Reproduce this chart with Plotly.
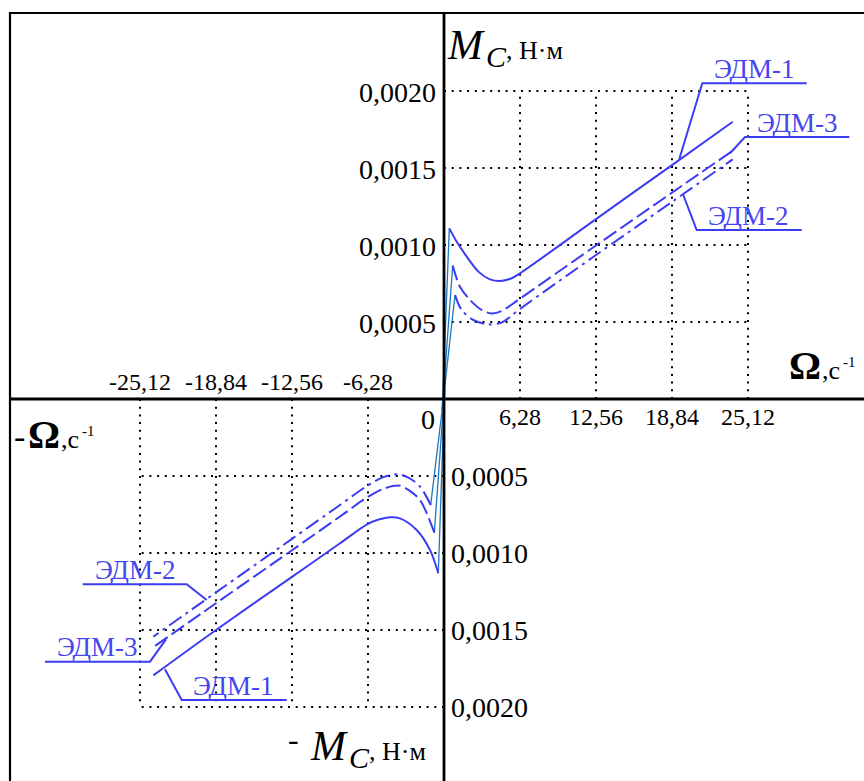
import plotly.graph_objects as go

# ---------------- data ----------------
X_TICKS_POS = [6.28, 12.56, 18.84, 25.12]
X_LABELS_POS = ["6,28", "12,56", "18,84", "25,12"]
X_TICKS_NEG = [-25.12, -18.84, -12.56, -6.28]
X_LABELS_NEG = ["-25,12", "-18,84", "-12,56", "-6,28"]
Y_TICKS_POS = [0.0005, 0.0010, 0.0015, 0.0020]
Y_LABELS_POS = ["0,0005", "0,0010", "0,0015", "0,0020"]
Y_TICKS_NEG = [-0.0005, -0.0010, -0.0015, -0.0020]
Y_LABELS_NEG = ["0,0005", "0,0010", "0,0015", "0,0020"]

# positive quadrant (Omega > 0)
edm1_x = [0.44, 1.05, 1.88, 2.84, 3.80, 4.63, 5.59, 6.28, 12.56, 18.84, 23.86]
edm1_y = [0.001108, 0.001021, 0.000924, 0.000827, 0.000777, 0.000766, 0.000784, 0.000816, 0.001168, 0.001519, 0.00180]
edm3_x = [0.72, 1.32, 2.15, 3.11, 3.94, 4.77, 6.28, 12.56, 18.84, 23.86]
edm3_y = [0.000866, 0.000729, 0.000643, 0.000578, 0.000556, 0.000572, 0.000652, 0.000997, 0.001340, 0.001612]
edm2_x = [0.91, 1.46, 2.42, 3.66, 4.77, 6.28, 12.56, 18.84, 23.86]
edm2_y = [0.000675, 0.000578, 0.000513, 0.000485, 0.000497, 0.000585, 0.000935, 0.001280, 0.001556]

# negative quadrant (Omega < 0)
edm1n_x = [-0.47, -1.16, -2.26, -3.64, -4.46, -5.40, -6.39, -8.59, -12.56, -18.84, -24.02]
edm1n_y = [-0.001132, -0.000980, -0.000851, -0.000775, -0.000768, -0.000783, -0.000815, -0.000937, -0.001155, -0.001500, -0.001795]
edm3n_x = [-0.80, -1.98, -2.80, -3.64, -4.90, -6.39, -8.32, -12.56, -18.84, -24.02]
edm3n_y = [-0.000868, -0.000656, -0.000598, -0.000563, -0.000580, -0.000640, -0.000748, -0.000982, -0.001326, -0.001612]
edm2n_x = [-1.10, -1.98, -2.90, -3.78, -5.00, -6.39, -8.59, -12.56, -18.84, -24.02]
edm2n_y = [-0.000688, -0.000569, -0.000512, -0.000489, -0.000507, -0.000566, -0.000688, -0.000908, -0.001256, -0.001543]

# start of thin transient segments
THIN_START_POS = (-0.15, -0.00007)
THIN_START_NEG = (0.05, 0.00006)

LABELS = ["ЭДМ-1", "ЭДМ-3", "ЭДМ-2"]

# ---------------- geometry helpers (layout only) ----------------
W, H = 864, 781
X0PX, XS = 444.0, 12.102      # px of x=0, px per unit
Y0PX, YS = 399.0, 154000.0    # px of y=0, px per unit
XR = [(0 - X0PX) / XS, (W - X0PX) / XS]
YR = [(Y0PX - H) / YS, Y0PX / YS]


def dx(px):
    return (px - X0PX) / XS


def dy(py):
    return (Y0PX - py) / YS


def pp(px, py):
    return px / W, 1 - py / H


SERIF = "Liberation Serif"
BLUE = "#3c3cf2"
THIN = "#1d76c2"
TXTBLUE = "#4646f0"

fig = go.Figure()

# ---- dotted grids ----
def grid(xticks, yticks, xlim, ylim):
    gx, gy = [], []
    for t in xticks:
        gx += [t, t, None]
        gy += [0, ylim, None]
    for t in yticks:
        gx += [0, xlim, None]
        gy += [t, t, None]
    return gx, gy

for xt, yt in [(X_TICKS_POS, Y_TICKS_POS), (X_TICKS_NEG, Y_TICKS_NEG)]:
    gx, gy = grid(xt, yt, xt[-1] if xt[-1] > 0 else xt[0], yt[-1])
    fig.add_trace(go.Scatter(x=gx, y=gy, mode="lines", hoverinfo="skip",
                             line=dict(color="black", width=2, dash="2px,5.7px"),
                             showlegend=False))

# ---- thin transient segments ----
for start, curves in [(THIN_START_POS, [(edm1_x, edm1_y), (edm3_x, edm3_y), (edm2_x, edm2_y)]),
                      (THIN_START_NEG, [(edm1n_x, edm1n_y), (edm3n_x, edm3n_y), (edm2n_x, edm2n_y)])]:
    for cx, cy in curves:
        fig.add_trace(go.Scatter(x=[start[0], cx[0]], y=[start[1], cy[0]], mode="lines",
                                 line=dict(color=THIN, width=1.3), showlegend=False,
                                 hoverinfo="skip"))

# ---- main curves ----
styles = {"ЭДМ-1": "solid", "ЭДМ-3": "15px,5px", "ЭДМ-2": "15px,5px,3px,5px"}
for name, cx, cy in [("ЭДМ-1", edm1_x, edm1_y), ("ЭДМ-3", edm3_x, edm3_y), ("ЭДМ-2", edm2_x, edm2_y),
                     ("ЭДМ-1", edm1n_x, edm1n_y), ("ЭДМ-3", edm3n_x, edm3n_y), ("ЭДМ-2", edm2n_x, edm2n_y)]:
    fig.add_trace(go.Scatter(x=cx, y=cy, mode="lines", name=name, showlegend=False,
                             line=dict(color=BLUE, width=2, dash=styles[name],
                                       shape="spline", smoothing=0.9)))

# ---- leader lines for labels (pixel paths) ----
LEADERS = {
    ("ЭДМ-1", "+"): [(806.7, 83.3), (702.3, 83.3), (679.3, 159.0)],
    ("ЭДМ-3", "+"): [(849.3, 137.0), (745.0, 137.0), (730.0, 153.3)],
    ("ЭДМ-2", "+"): [(801.7, 230.0), (696.7, 230.0), (683.3, 195.0)],
    ("ЭДМ-2", "-"): [(82.7, 584.3), (186.7, 584.3), (206.7, 600.0)],
    ("ЭДМ-3", "-"): [(45.0, 661.7), (150.0, 661.7), (166.0, 639.3)],
    ("ЭДМ-1", "-"): [(286.7, 700.0), (181.7, 700.0), (165.0, 669.3)],
}
LABEL_POS = {
    ("ЭДМ-1", "+"): (754, 69),
    ("ЭДМ-3", "+"): (797, 123),
    ("ЭДМ-2", "+"): (748, 216),
    ("ЭДМ-2", "-"): (135, 570),
    ("ЭДМ-3", "-"): (97, 647),
    ("ЭДМ-1", "-"): (233, 686),
}
annotations = []
for key, path in LEADERS.items():
    fig.add_trace(go.Scatter(x=[dx(p[0]) for p in path], y=[dy(p[1]) for p in path],
                             mode="lines", line=dict(color=BLUE, width=2),
                             showlegend=False, hoverinfo="skip"))
    lx, ly = LABEL_POS[key]
    annotations.append(dict(x=dx(lx), y=dy(ly), xref="x", yref="y", text=key[0],
                            showarrow=False, xanchor="center", yanchor="middle",
                            font=dict(family=SERIF, size=27, color=TXTBLUE)))

# ---- tick labels ----
XTICK_FONT = dict(family=SERIF, size=24, color="black")
YTICK_FONT = dict(family=SERIF, size=28, color="black")
for v, t in zip(Y_TICKS_POS, Y_LABELS_POS):
    annotations.append(dict(x=dx(438), y=v, xref="x", yref="y", text=t, showarrow=False,
                            xanchor="right", yanchor="middle", yshift=-1, font=YTICK_FONT))
for v, t in zip(Y_TICKS_NEG, Y_LABELS_NEG):
    annotations.append(dict(x=dx(449), y=v, xref="x", yref="y", text=t, showarrow=False,
                            xanchor="left", yanchor="middle", font=YTICK_FONT))
for v, t in zip(X_TICKS_POS, X_LABELS_POS):
    annotations.append(dict(x=v, y=0, xref="x", yref="y", text=t, showarrow=False,
                            xanchor="center", yanchor="middle", yshift=-18, font=XTICK_FONT))
for v, t in zip(X_TICKS_NEG, X_LABELS_NEG):
    annotations.append(dict(x=v, y=0, xref="x", yref="y", text=t, showarrow=False,
                            xanchor="center", yanchor="middle", yshift=17, font=XTICK_FONT))
annotations.append(dict(x=dx(428), y=0, xref="x", yref="y", text="0", showarrow=False,
                        xanchor="center", yanchor="middle", yshift=-20, font=YTICK_FONT))


# ---- axis titles (built from pieces) ----
def txt(px, baseline, text, size, bold=False, italic=False, family=SERIF):
    cy = baseline - 0.338 * size
    x, y = pp(px, cy)
    s = text
    if italic:
        s = "<i>" + s + "</i>"
    if bold:
        s = "<b>" + s + "</b>"
    annotations.append(dict(x=x, y=y, xref="paper", yref="paper", text=s, showarrow=False,
                            xanchor="left", yanchor="middle",
                            borderpad=0, font=dict(family=family, size=size, color="black")))

# upper: M_C, Н·м
txt(446, 59, "M", 42, italic=True)
txt(485, 67, "C", 30, italic=True)
txt(505, 59, ", Н·м", 26)
# lower: - M_C, Н·м
txt(287, 750, "-", 32)
txt(309, 760, "M", 42, italic=True)
txt(348, 768, "C", 30, italic=True)
txt(368, 760, ", Н·м", 26)
# right: Ω,с-1
txt(788, 379, "Ω", 40, bold=True)
txt(821, 379, ",с", 26)
txt(842, 367, "-1", 15)
# left: -Ω,с-1
txt(13, 448, "-", 34)
txt(27, 448, "Ω", 40, bold=True)
txt(60, 448, ",с", 26)
txt(81, 436, "-1", 15)

# ---- axes and frame (shapes) ----
shapes = [
    dict(type="rect", xref="paper", yref="paper", x0=10 / W, x1=1.02, y0=-0.02, y1=1 - 13 / H,
         line=dict(color="black", width=2.2), fillcolor="rgba(0,0,0,0)", layer="above"),
    dict(type="line", xref="paper", yref="y", x0=10 / W, x1=1.02, y0=0, y1=0,
         line=dict(color="black", width=2.8), layer="above"),
    dict(type="line", xref="x", yref="paper", x0=0, x1=0, y0=-0.02, y1=1 - 13 / H,
         line=dict(color="black", width=2.8), layer="above"),
]

fig.update_layout(
    width=W, height=H,
    margin=dict(l=0, r=0, t=0, b=0),
    paper_bgcolor="white", plot_bgcolor="white",
    xaxis=dict(range=XR, visible=False, fixedrange=True),
    yaxis=dict(range=YR, visible=False, fixedrange=True),
    annotations=annotations,
    shapes=shapes,
    showlegend=False,
)

fig.write_html("out.html", config={"displayModeBar": False},
               post_script="document.body.style.margin='0';document.body.style.overflow='hidden';")
